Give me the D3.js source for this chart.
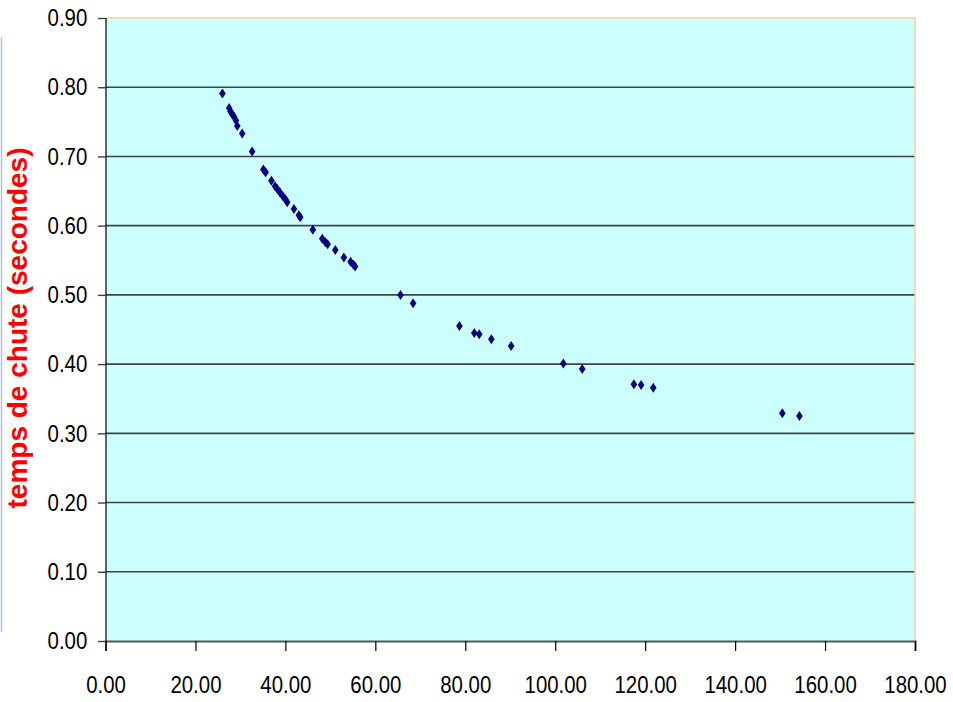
<!DOCTYPE html>
<html>
<head>
<meta charset="utf-8">
<script src="https://cdn.jsdelivr.net/npm/d3@7"></script>
<style>
  body { margin: 0; background: #fff; }
  svg { display: block; }
</style>
</head>
<body>
<div id="chart"></div>
<script>
// distance (x) vs. fall time in seconds (y)
var distances = [26.0, 27.5, 27.8, 28.2, 28.6, 29.0, 29.3, 30.4, 32.6, 35.1, 35.6, 36.9, 37.7,
    38.2, 38.8, 39.4, 40.0, 40.4, 41.9, 43.0, 43.3, 46.1, 48.2, 48.9, 49.4, 51.1, 53.0, 54.5,
    55.1, 55.5, 65.6, 68.4, 78.7, 82.0, 83.1, 85.8, 90.2, 101.8, 106.0, 117.5, 119.1, 121.8,
    150.5, 154.3];
var times = [0.791, 0.770, 0.765, 0.761, 0.757, 0.752, 0.744, 0.733, 0.707, 0.681, 0.677, 0.665, 0.657,
    0.653, 0.648, 0.643, 0.638, 0.634, 0.624, 0.615, 0.612, 0.594, 0.581, 0.576, 0.573, 0.565, 0.554, 0.548,
    0.544, 0.541, 0.500, 0.488, 0.455, 0.445, 0.443, 0.436, 0.426, 0.401, 0.393, 0.371, 0.370, 0.366,
    0.329, 0.325];
var xTicks = [0, 20, 40, 60, 80, 100, 120, 140, 160, 180];
var yTicks = [0, 0.1, 0.2, 0.3, 0.4, 0.5, 0.6, 0.7, 0.8, 0.9];
var yLabel = "temps de chute (secondes)";

var width = 953, height = 702;
var margin = {left: 105.5, top: 18, right: 38, bottom: 61};

var svg = d3.select("#chart").append("svg")
    .attr("width", width)
    .attr("height", height);

var x = d3.scaleLinear().domain([0, 180]).range([margin.left, width - margin.right]);
var y = d3.scaleLinear().domain([0, 0.9]).range([height - margin.bottom, margin.top]);

// stray slide border on the far left
svg.append("line")
    .attr("x1", 1.5).attr("x2", 1.5)
    .attr("y1", 37).attr("y2", 632)
    .style("stroke", "#a8c4ec")
    .style("stroke-width", 1.5);

// plot background
svg.append("rect")
    .attr("x", x(0)).attr("y", y(0.9))
    .attr("width", x(180) - x(0))
    .attr("height", y(0) - y(0.9))
    .style("fill", "#ccffff");

// horizontal gridlines
svg.append("g").selectAll("line")
    .data(yTicks.filter(function (d) { return d > 0 && d < 0.9; }))
    .enter().append("line")
    .attr("x1", x(0)).attr("x2", x(180))
    .attr("y1", function (d) { return y(d); })
    .attr("y2", function (d) { return y(d); })
    .style("stroke", "#3c4646")
    .style("stroke-width", 1.6);

// top / right frame in orange
svg.append("path")
    .attr("d", "M" + x(0) + "," + y(0.9) + "H" + x(180) + "V" + y(0))
    .style("fill", "none")
    .style("stroke", "#ffcc99")
    .style("stroke-width", 1.5);

// axes
var xAxis = d3.axisBottom(x)
    .tickValues(xTicks)
    .tickSize(10)
    .tickPadding(25)
    .tickFormat(d3.format(".2f"));
var yAxis = d3.axisLeft(y)
    .tickValues(yTicks)
    .tickSize(7.5)
    .tickPadding(10.7)
    .tickFormat(d3.format(".2f"));

var gx = svg.append("g")
    .attr("transform", "translate(0," + y(0) + ")")
    .call(xAxis);
var gy = svg.append("g")
    .attr("transform", "translate(" + x(0) + ",0)")
    .call(yAxis);

gx.select(".domain").style("stroke", "#505a5a").style("stroke-width", 2);
gy.select(".domain").style("stroke", "#000").style("stroke-width", 1.2);
gy.selectAll(".tick line").style("stroke", "#404040").style("stroke-width", 1.4);
gx.selectAll(".tick line").style("stroke", "#000").style("stroke-width", 1.2);

// tick labels: tall, narrow look of the original (squeeze horizontally)
[gx, gy].forEach(function (g) {
    g.selectAll("text")
        .style("font-family", "'Liberation Sans', Arial, sans-serif")
        .style("font-size", "24px")
        .style("fill", "#000")
        .each(function () {
            var len = this.getComputedTextLength();
            d3.select(this)
                .attr("textLength", len * 0.85)
                .attr("lengthAdjust", "spacingAndGlyphs");
        });
});

// y axis title
svg.append("text")
    .attr("transform", "translate(27," + 328 + ") rotate(-90)")
    .attr("text-anchor", "middle")
    .style("font-family", "'Liberation Sans', Arial, sans-serif")
    .style("font-size", "28px")
    .style("font-weight", "bold")
    .style("fill", "#ff0000")
    .text(yLabel);

// points (diamonds)
var diamond = "M0,-5L3.3,0L0,5L-3.3,0Z";
svg.append("g").selectAll("path")
    .data(distances)
    .enter().append("path")
    .attr("d", diamond)
    .attr("transform", function (d, i) { return "translate(" + x(d) + "," + y(times[i]) + ")"; })
    .style("fill", "#000080");
</script>
</body>
</html>
